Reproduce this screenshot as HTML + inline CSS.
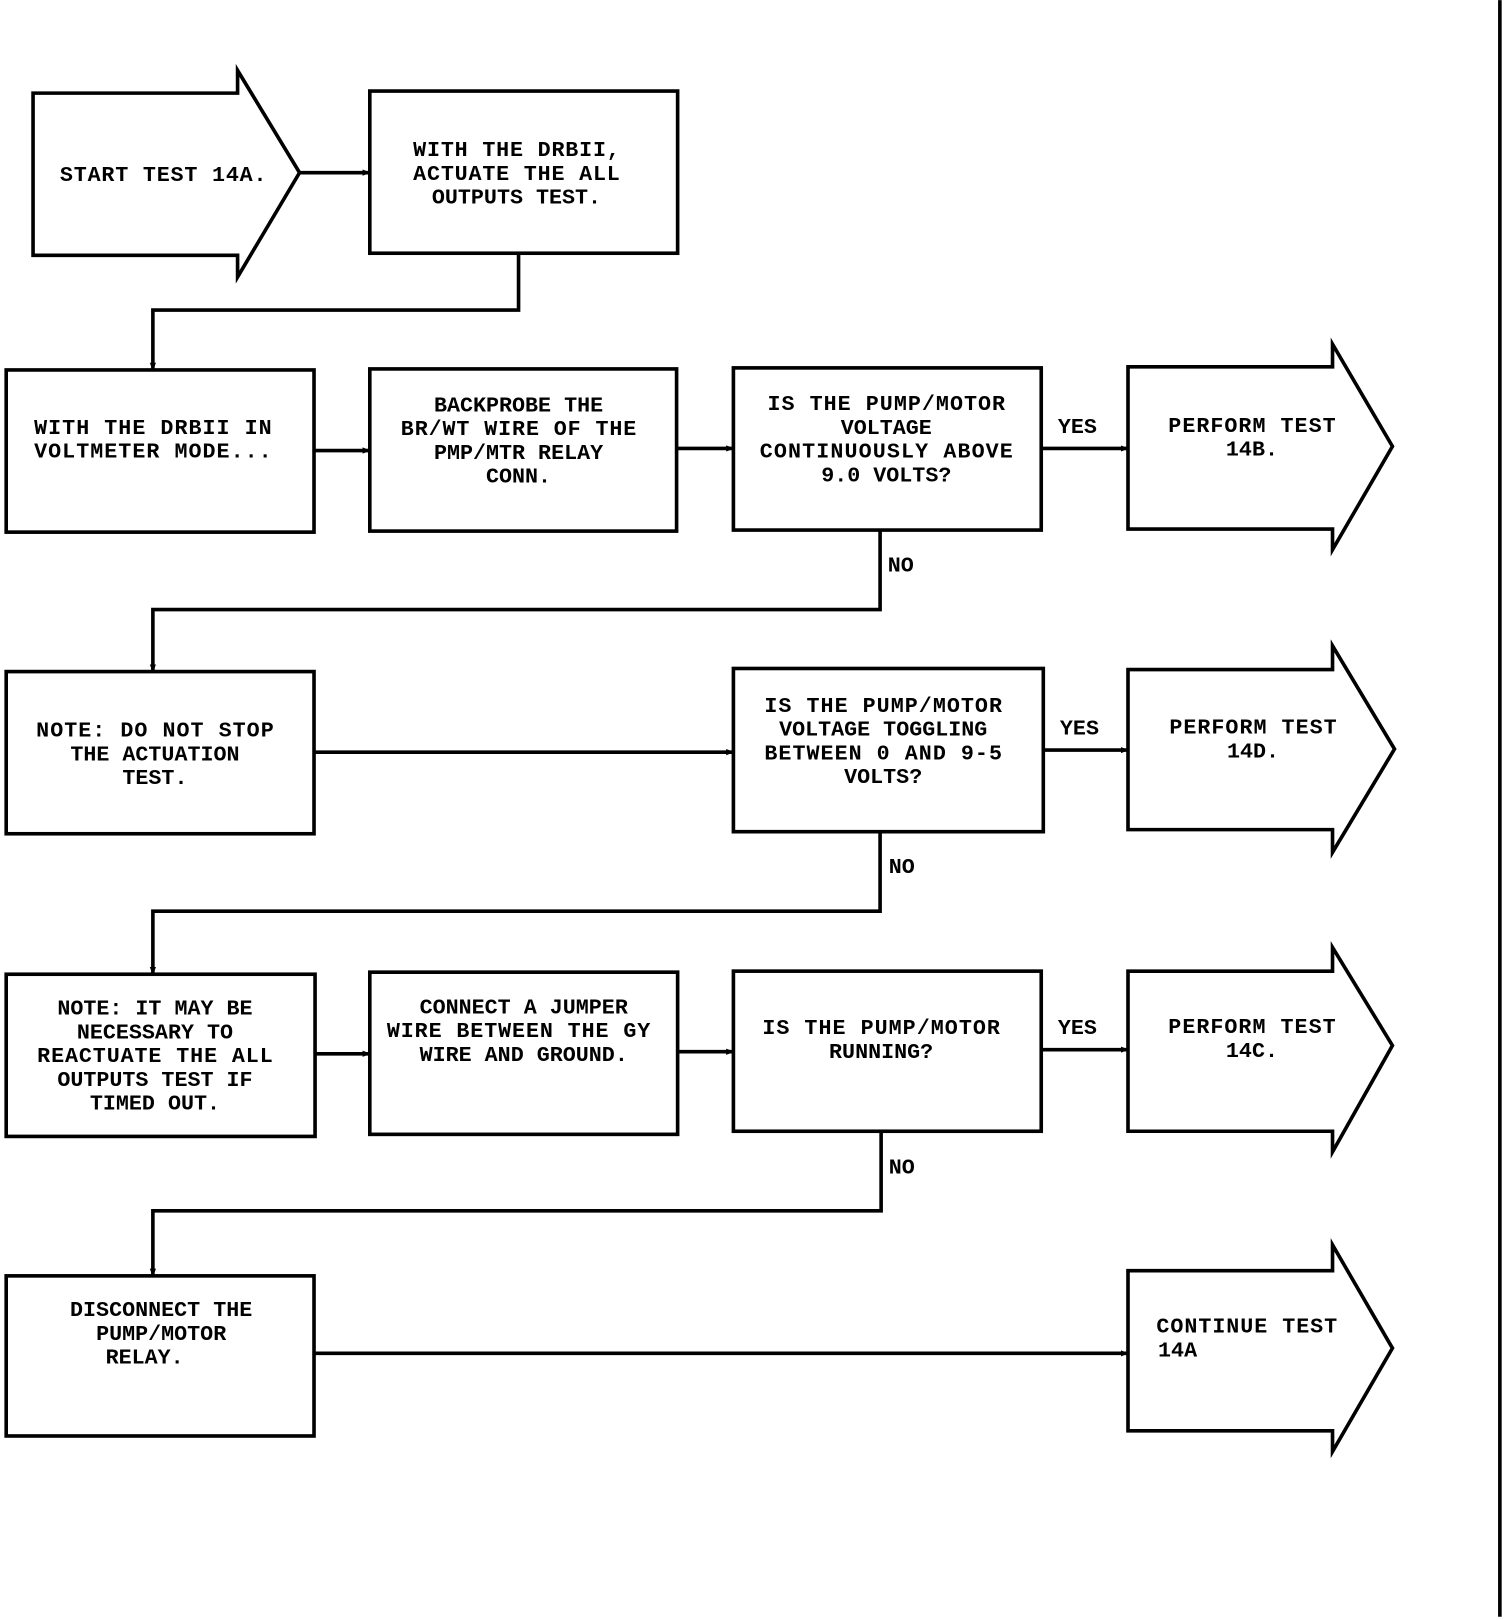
<!DOCTYPE html>
<html><head><meta charset="utf-8"><style>
html,body{margin:0;padding:0;background:#fff;}
svg{display:block;}
text{font-family:"Liberation Mono",monospace;font-size:21px;font-weight:bold;fill:#000;text-anchor:middle;}
</style></head><body>
<svg width="1504" height="1620" viewBox="0 0 1456 1568" xmlns="http://www.w3.org/2000/svg">
<defs>
<marker id="a" markerWidth="8" markerHeight="8" refX="7" refY="4" orient="auto" markerUnits="userSpaceOnUse">
<path d="M0,1 L8,4 L0,7 Z" fill="#000"/>
</marker>
</defs>
<g fill="none" stroke="#000" stroke-width="3.5">
<line x1="1452" y1="0" x2="1452" y2="1565"/>
<polygon points="32,90 230,90 230,68 290,167 230,268 230,247 32,247"/>
<rect x="358" y="88" width="298" height="157"/>
<line x1="290" y1="167" x2="358" y2="167" marker-end="url(#a)"/>
<polyline points="502,245 502,300 148,300 148,358" marker-end="url(#a)"/>
<rect x="6" y="358" width="298" height="157"/>
<rect x="358" y="357" width="297" height="157"/>
<rect x="710" y="356" width="298" height="157"/>
<polygon points="1092,355 1290,355 1290,333 1348,432 1290,532 1290,512 1092,512"/>
<line x1="304" y1="436" x2="358" y2="436" marker-end="url(#a)"/>
<line x1="655" y1="434" x2="710" y2="434" marker-end="url(#a)"/>
<line x1="1008" y1="434" x2="1092" y2="434" marker-end="url(#a)"/>
<polyline points="852,513 852,590 148,590 148,650" marker-end="url(#a)"/>
<rect x="6" y="650" width="298" height="157"/>
<rect x="710" y="647" width="300" height="158"/>
<polygon points="1092,648 1290,648 1290,625 1350,725 1290,825 1290,803 1092,803"/>
<line x1="304" y1="728" x2="710" y2="728" marker-end="url(#a)"/>
<line x1="1010" y1="726" x2="1092" y2="726" marker-end="url(#a)"/>
<polyline points="852,805 852,882 148,882 148,943" marker-end="url(#a)"/>
<rect x="6" y="943" width="299" height="157"/>
<rect x="358" y="941" width="298" height="157"/>
<rect x="710" y="940" width="298" height="155"/>
<polygon points="1092,940 1290,940 1290,917 1348,1012 1290,1115 1290,1095 1092,1095"/>
<line x1="305" y1="1020" x2="358" y2="1020" marker-end="url(#a)"/>
<line x1="656" y1="1018" x2="710" y2="1018" marker-end="url(#a)"/>
<line x1="1008" y1="1016" x2="1092" y2="1016" marker-end="url(#a)"/>
<polyline points="853,1095 853,1172 148,1172 148,1235" marker-end="url(#a)"/>
<rect x="6" y="1235" width="298" height="155"/>
<polygon points="1092,1230 1290,1230 1290,1205 1348,1305 1290,1405 1290,1385 1092,1385"/>
<line x1="304" y1="1310" x2="1092" y2="1310" marker-end="url(#a)"/>
</g>
<text x="158" y="175" textLength="200">START TEST 14A.</text>
<text x="500" y="151" textLength="200">WITH THE DRBII,</text>
<text x="500" y="174" textLength="200">ACTUATE THE ALL</text>
<text x="500" y="197">OUTPUTS TEST.</text>
<text x="148" y="420" textLength="230">WITH THE DRBII IN</text>
<text x="148" y="443" textLength="230">VOLTMETER MODE...</text>
<text x="502" y="398">BACKPROBE THE</text>
<text x="502" y="421" textLength="228">BR/WT WIRE OF THE</text>
<text x="502" y="444">PMP/MTR RELAY</text>
<text x="502" y="467">CONN.</text>
<text x="858" y="397" textLength="230">IS THE PUMP/MOTOR</text>
<text x="858" y="420">VOLTAGE</text>
<text x="858" y="443" textLength="245">CONTINUOUSLY ABOVE</text>
<text x="858" y="466">9.0 VOLTS?</text>
<text x="1043" y="419">YES</text>
<text x="1212" y="418" textLength="162">PERFORM TEST</text>
<text x="1212" y="441">14B.</text>
<text x="872" y="553">NO</text>
<text x="150" y="713" textLength="230">NOTE: DO NOT STOP</text>
<text x="150" y="736">THE ACTUATION</text>
<text x="150" y="759">TEST.</text>
<text x="855" y="689" textLength="230">IS THE PUMP/MOTOR</text>
<text x="855" y="712">VOLTAGE TOGGLING</text>
<text x="855" y="735" textLength="230">BETWEEN 0 AND 9-5</text>
<text x="855" y="758">VOLTS?</text>
<text x="1045" y="711">YES</text>
<text x="1213" y="710" textLength="162">PERFORM TEST</text>
<text x="1213" y="733">14D.</text>
<text x="873" y="845">NO</text>
<text x="150" y="982">NOTE:  IT MAY BE</text>
<text x="150" y="1005">NECESSARY TO</text>
<text x="150" y="1028" textLength="228">REACTUATE THE ALL</text>
<text x="150" y="1051">OUTPUTS TEST IF</text>
<text x="150" y="1074">TIMED OUT.</text>
<text x="507" y="981">CONNECT A JUMPER</text>
<text x="502" y="1004" textLength="255">WIRE BETWEEN THE GY</text>
<text x="507" y="1027">WIRE AND GROUND.</text>
<text x="853" y="1001" textLength="230">IS THE PUMP/MOTOR</text>
<text x="853" y="1024">RUNNING?</text>
<text x="1043" y="1001">YES</text>
<text x="1212" y="1000" textLength="162">PERFORM TEST</text>
<text x="1212" y="1023">14C.</text>
<text x="873" y="1136">NO</text>
<text x="156" y="1274">DISCONNECT THE</text>
<text x="156" y="1297">PUMP/MOTOR</text>
<text x="140" y="1320">RELAY.</text>
<text x="1207" y="1290" textLength="175">CONTINUE TEST</text>
<text x="1140" y="1313">14A</text>
</svg>
</body></html>
